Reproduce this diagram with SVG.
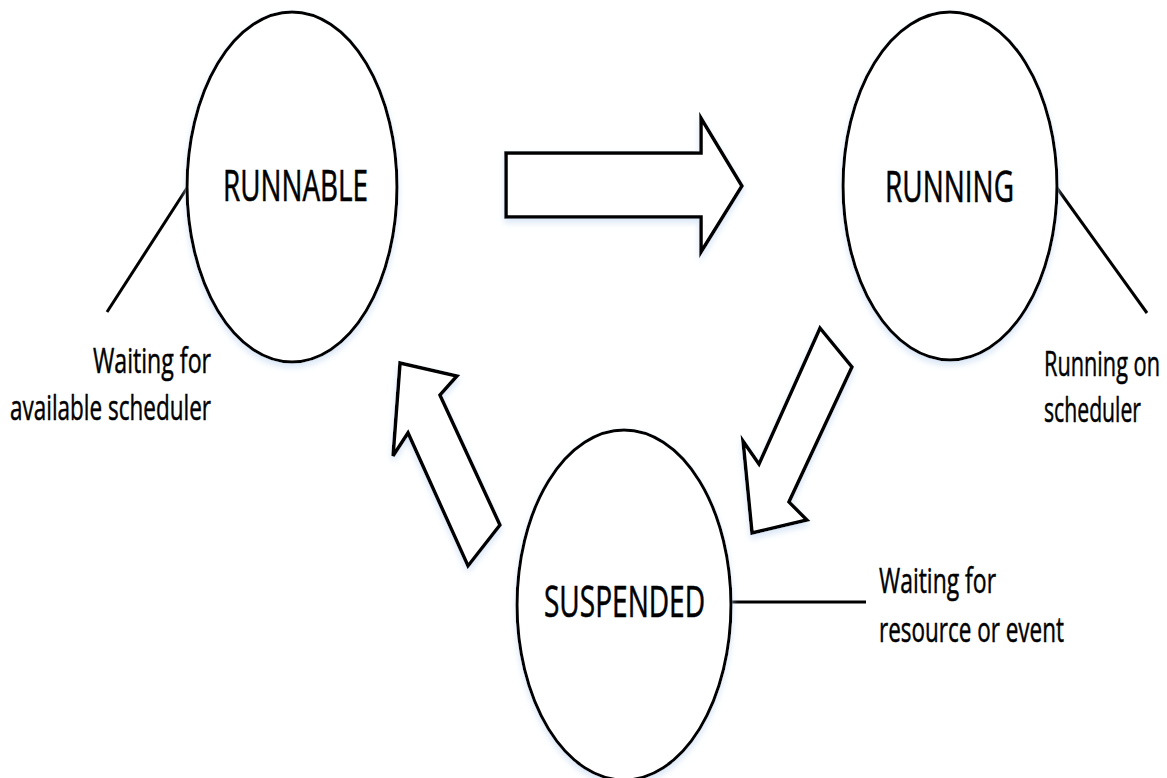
<svg xmlns="http://www.w3.org/2000/svg" width="1167" height="778" viewBox="0 0 1167 778">
  <defs>
    <filter id="soft" x="-10%" y="-10%" width="120%" height="125%">
      <feDropShadow dx="0" dy="4" stdDeviation="3" flood-color="#c9dcf2" flood-opacity="0.7"/>
    </filter>
  </defs>
  <style>
    .state { fill: #ffffff; stroke: #000000; stroke-width: 3; filter: url(#soft); }
    .flow { fill: #ffffff; stroke: #000000; stroke-width: 3.5; stroke-linejoin: miter; filter: url(#soft); }
    .lead { stroke: #000000; stroke-width: 3; fill: none; }
    .title { font-family: "Open Sans", "Liberation Sans", sans-serif; font-size: 43px; fill: #000000; stroke: #000000; stroke-width: 0.6; }
    .note { font-family: "Open Sans", "Liberation Sans", sans-serif; font-size: 35px; fill: #000000; stroke: #000000; stroke-width: 0.5; }
  </style>
  <rect width="1167" height="778" fill="#ffffff"/>

  <!-- transition arrows and leader lines -->
  <g id="connectors">
    <polygon class="flow" points="506,153 701,153 701,118 742,186 701,252 701,217 506,217"/>
    <polygon class="flow" points="820,328 852,367 789,502 807,520 752,533 743,441 759,464"/>
    <polygon class="flow" points="400,363 457,376 440,395 500,525 468,566 408,433 393,456"/>
    <line class="lead" x1="187" y1="188" x2="107" y2="312"/>
    <line class="lead" x1="1057" y1="188" x2="1147" y2="313"/>
    <line class="lead" x1="732" y1="602" x2="866" y2="602"/>
  </g>

  <g id="runnable">
    <ellipse class="state" cx="292" cy="187" rx="105" ry="175"/>
    <text class="title" x="223" y="201" textLength="145" lengthAdjust="spacingAndGlyphs">RUNNABLE</text>
    <text class="note" x="93" y="373" textLength="118" lengthAdjust="spacingAndGlyphs">Waiting for</text>
    <text class="note" x="10" y="420" textLength="201" lengthAdjust="spacingAndGlyphs">available scheduler</text>
  </g>

  <g id="running">
    <ellipse class="state" cx="950" cy="186" rx="107" ry="174"/>
    <text class="title" x="885" y="202" textLength="129" lengthAdjust="spacingAndGlyphs">RUNNING</text>
    <text class="note" x="1044" y="376" textLength="116" lengthAdjust="spacingAndGlyphs">Running on</text>
    <text class="note" x="1044" y="422" textLength="97" lengthAdjust="spacingAndGlyphs">scheduler</text>
  </g>

  <g id="suspended">
    <ellipse class="state" cx="624" cy="605" rx="107" ry="175"/>
    <text class="title" x="544" y="617" textLength="161" lengthAdjust="spacingAndGlyphs">SUSPENDED</text>
    <text class="note" x="879" y="593" textLength="117" lengthAdjust="spacingAndGlyphs">Waiting for</text>
    <text class="note" x="879" y="642" textLength="185" lengthAdjust="spacingAndGlyphs">resource or event</text>
  </g>
</svg>
